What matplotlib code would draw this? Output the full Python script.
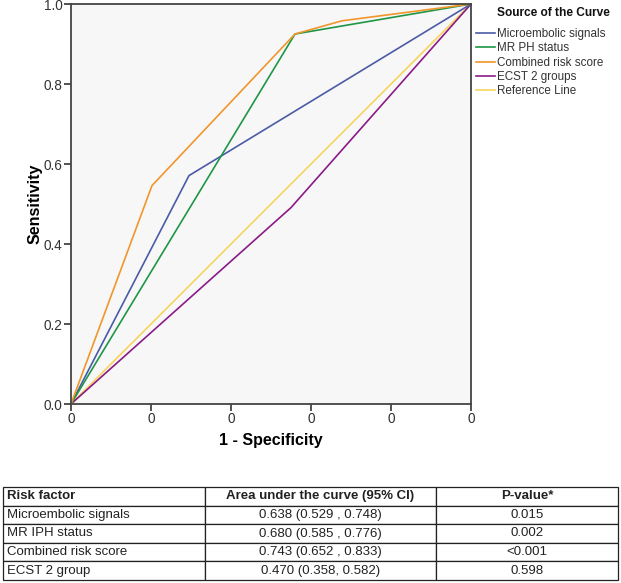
import matplotlib
matplotlib.use("Agg")
import matplotlib.pyplot as plt

plt.rcParams['font.family'] = ['Liberation Sans', 'DejaVu Sans']

# ROC curves (1 - specificity, sensitivity)
micro_x = [0.0, 0.295, 1.0]
micro_y = [0.0, 0.571, 1.0]
mrph_x = [0.0, 0.56, 1.0]
mrph_y = [0.0, 0.925, 1.0]
combined_x = [0.0, 0.2025, 0.56, 0.6775, 1.0]
combined_y = [0.0, 0.546, 0.925, 0.958, 1.0]
ecst_x = [0.0, 0.55, 1.0]
ecst_y = [0.0, 0.491, 1.0]
ref_x = [0.0, 1.0]
ref_y = [0.0, 1.0]

labels = ['Microembolic signals', 'MR PH status', 'Combined risk score',
          'ECST 2 groups', 'Reference Line']
colors = ['#4b5ba6', '#1e9646', '#f0962b', '#8a1b86', '#f6d55c']

# table
table_header = ['Risk factor', 'Area under the curve (95% CI)', 'P-value*']
risk_factors = ['Microembolic signals', 'MR IPH status', 'Combined risk score', 'ECST 2 group']
auc_text = ['0.638 (0.529 , 0.748)', '0.680 (0.585 , 0.776)',
            '0.743 (0.652 , 0.833)', '0.470 (0.358, 0.582)']
p_values = ['0.015', '0.002', '<0.001', '0.598']

fig = plt.figure(figsize=(6.21, 5.83), dpi=100)
ax = fig.add_axes([71/621, 1 - 404/583, 400/621, 400/583])
ax.set_facecolor('#f7f7f7')

curves = [(micro_x, micro_y), (mrph_x, mrph_y), (combined_x, combined_y),
          (ecst_x, ecst_y), (ref_x, ref_y)]
order = [4, 3, 0, 1, 2]
handles = [None] * 5
for i in order:
    xs, ys = curves[i]
    line, = ax.plot(xs, ys, color=colors[i], lw=1.2, label=labels[i])
    handles[i] = line

ax.set_xlim(0, 1)
ax.set_ylim(0, 1)
ax.set_xticks([0, 0.2, 0.4, 0.6, 0.8, 1.0])
ax.set_xticklabels(['0'] * 6)
ax.set_yticks([0, 0.2, 0.4, 0.6, 0.8, 1.0])
ax.set_yticklabels(['0.0', '0.2', '0.4', '0.6', '0.8', '1.0'])
ax.tick_params(colors='#333333', labelsize=9.8, length=5, width=1.2,
               direction='out', pad=1)
for s in ax.spines.values():
    s.set_color('#444444')
    s.set_linewidth(1.3)

ax.set_xlabel('1 - Specificity', fontsize=11.5, fontweight='bold', labelpad=5)
ax.set_ylabel('Sensitivity', fontsize=11.5, fontweight='bold', labelpad=1)

fig.text(497/621, 1 - 13/583, 'Source of the Curve', fontsize=8.6,
         fontweight='bold', color='#111111', va='center', ha='left')
leg = fig.legend(handles=handles, labels=labels, loc='upper left',
                 bbox_to_anchor=(476/621, 1 - 28/583), frameon=False,
                 fontsize=8.4, handlelength=1.65, handletextpad=0.12,
                 labelspacing=0.2, borderaxespad=0, borderpad=0)
for t in leg.get_texts():
    t.set_color('#333333')

# table at the bottom
tax = fig.add_axes([3/621, 3/583, 615/621, 93/583])
tax.axis('off')
cells = [[r, a, p] for r, a, p in zip(risk_factors, auc_text, p_values)]
tbl = tax.table(cellText=cells, colLabels=table_header,
                colWidths=[202/615, 231/615, 182/615],
                cellLoc='center', bbox=[0, 0, 1, 1])
tbl.auto_set_font_size(False)
tbl.set_fontsize(9.5)
for (r, c), cell in tbl.get_celld().items():
    cell.set_edgecolor('#222222')
    cell.set_linewidth(0.9)
    cell.get_text().set_color('#222222')
    if c == 0:
        cell.get_text().set_ha('left')
        cell.PAD = 0.02
    if r == 0:
        cell.get_text().set_fontweight('bold')

fig.savefig('out.png', dpi=100)
